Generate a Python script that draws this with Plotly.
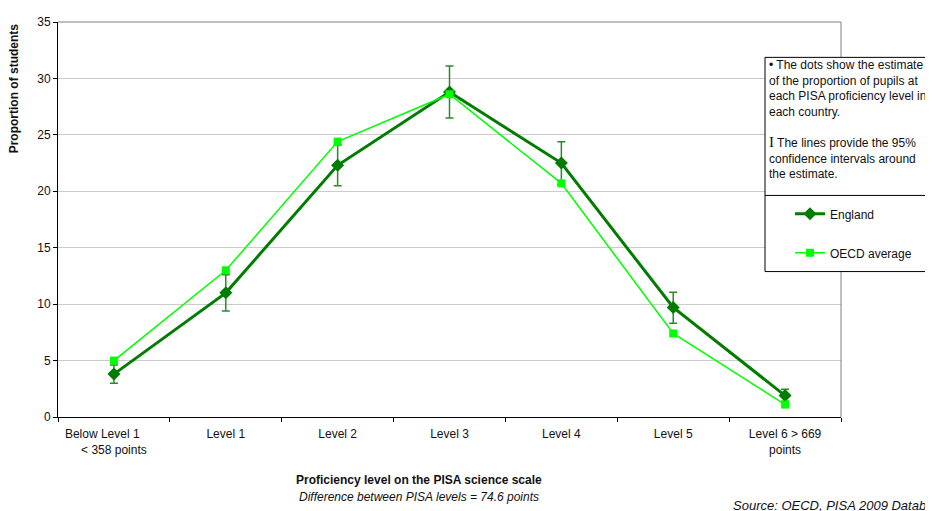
import plotly.graph_objects as go

categories = ["Below Level 1", "Level 1", "Level 2", "Level 3", "Level 4", "Level 5", "Level 6"]
tick_labels = ["Below Level 1\u00a0\u00a0\u00a0\u00a0\u00a0\u00a0\u00a0<br>< 358 points", "Level 1", "Level 2", "Level 3",
               "Level 4", "Level 5", "Level 6 > 669<br>points"]
england = [3.8, 11.0, 22.3, 28.8, 22.5, 9.7, 1.9]
england_ci_low = [3.0, 9.4, 20.5, 26.5, 20.6, 8.3, 1.4]
england_ci_high = [4.6, 12.6, 24.1, 31.1, 24.4, 11.05, 2.45]
oecd = [5.0, 13.0, 24.4, 28.6, 20.7, 7.4, 1.1]

FONT = "Liberation Sans, Arial, sans-serif"
DARK = "#007D00"
BRIGHT = "#00FF00"

# page body has an 8px margin; figure is sized to fit the window
OFF = 8
W, H = 933 - OFF, 511 - OFF
# plot area in window (reference) pixels
L, R, T, B = 58, 841, 15, 417


def px(xp):
    return (xp - L) / (R - L)


def py(yp):
    return (B - yp) / (B - T)


err_plus = [h - v for h, v in zip(england_ci_high, england)]
err_minus = [v - l for v, l in zip(england, england_ci_low)]

fig = go.Figure()
fig.add_trace(go.Scatter(
    x=categories, y=england, name="England", mode="lines+markers",
    line=dict(color=DARK, width=3),
    marker=dict(symbol="diamond", size=10, color=DARK),
    error_y=dict(type="data", array=err_plus, arrayminus=err_minus,
                 color="#2A8A2A", thickness=1.5, width=4),
    legendgroup="a",
))
fig.add_trace(go.Scatter(
    x=categories, y=oecd, name="OECD average", mode="lines+markers",
    line=dict(color=BRIGHT, width=1.5),
    marker=dict(symbol="square", size=8, color=BRIGHT),
    legendgroup="b",
))

shapes = [
    dict(type="line", xref="paper", yref="paper", x0=0, x1=1, y0=1, y1=1,
         line=dict(color="#808080", width=1)),
    dict(type="line", xref="paper", yref="paper", x0=1, x1=1, y0=0, y1=1,
         line=dict(color="#808080", width=1)),
    dict(type="rect", xref="paper", yref="paper", x0=px(765), x1=px(945), y0=py(269), y1=py(51),
         line=dict(color="black", width=1), fillcolor="white", layer="above"),
    dict(type="line", xref="paper", yref="paper", x0=px(765), x1=px(945), y0=py(191.5), y1=py(191.5),
         line=dict(color="black", width=1), layer="above"),
]

box_text = ("• The dots show the estimate<br>of the proportion of pupils at<br>"
            "each PISA proficiency level in<br>each country.<br><br>"
            "<span style=\"font-family:'Liberation Serif', serif; font-size:15px\">I</span> The lines provide the 95%<br>"
            "confidence intervals around<br>the estimate.")

annotations = [
    dict(text="<b>Proportion of students</b>", textangle=-90, xref="paper", yref="paper",
         x=px(14), y=py(82.5), xanchor="center", yanchor="middle", showarrow=False,
         font=dict(size=12, color="#111")),
    dict(text="<b>Proficiency level on the PISA science scale</b>", xref="paper", yref="paper",
         x=px(419), y=py(481), xanchor="center", yanchor="middle", showarrow=False,
         font=dict(size=12, color="#111")),
    dict(text="<i>Difference between PISA levels = 74.6 points</i>", xref="paper", yref="paper",
         x=px(419), y=py(498), xanchor="center", yanchor="middle", showarrow=False,
         font=dict(size=12, color="#111")),
    dict(text="<i>Source: OECD, PISA 2009 Database</i>", xref="paper", yref="paper",
         x=px(731), y=py(507), xanchor="left", yanchor="middle", showarrow=False,
         font=dict(size=13, color="#111")),
    dict(text=box_text, xref="paper", yref="paper", x=px(767), y=py(50), xanchor="left",
         yanchor="top", align="left", showarrow=False, font=dict(size=12, color="#111")),
]

fig.update_layout(
    width=W, height=H, autosize=False,
    margin=dict(l=L - OFF, r=933 - R, t=T - OFF, b=511 - B, pad=0),
    paper_bgcolor="white", plot_bgcolor="white",
    font=dict(family=FONT, size=12, color="#111"),
    shapes=shapes, annotations=annotations,
    showlegend=True,
    legend=dict(x=px(790), y=py(195.5), xanchor="left", yanchor="top",
                bgcolor="rgba(0,0,0,0)", itemwidth=30, tracegroupgap=20,
                traceorder="grouped", font=dict(size=12, color="#111")),
    xaxis=dict(type="category", categoryarray=categories, tickmode="array",
               tickvals=categories, ticktext=tick_labels, tickson="boundaries",
               ticks="outside", ticklen=4, tickcolor="black", showline=True,
               linecolor="black", linewidth=1, showgrid=False, range=[-0.5, 6.5],
               ticklabelstandoff=6,
               tickfont=dict(size=12, color="#111")),
    yaxis=dict(range=[0, 35], dtick=5, showgrid=True, gridcolor="#cccccc", gridwidth=1,
               ticks="outside", ticklen=4, tickcolor="black", showline=True,
               linecolor="black", linewidth=1, zeroline=False,
               tickfont=dict(size=12, color="#111")),
)

fig.write_html("out.html")
